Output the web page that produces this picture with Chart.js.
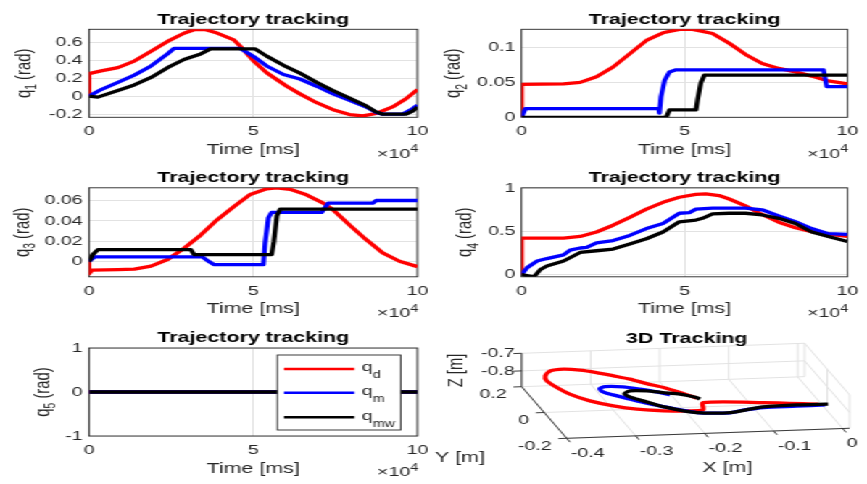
<!DOCTYPE html>
<html>
<head>
<meta charset="utf-8">
<script src="https://cdn.jsdelivr.net/npm/chart.js@4.4.1/dist/chart.umd.min.js"></script>
<style>
  html, body { margin: 0; padding: 0; background: #fff; overflow: hidden; }
  #fig { position: relative; width: 598px; height: 484px; transform: scaleX(1.44983); transform-origin: 0 0; }
  #fig canvas { position: absolute; left: 0; top: 0; }
</style>
</head>
<body>
<div id="fig">
  <canvas id="c1" width="598" height="484"></canvas>
  <canvas id="c2" width="598" height="484"></canvas>
  <canvas id="c3" width="598" height="484"></canvas>
  <canvas id="c4" width="598" height="484"></canvas>
  <canvas id="c5" width="598" height="484"></canvas>
  <canvas id="c6" width="598" height="484"></canvas>
</div>
<script>
// ---------------- data ----------------
const TIME_MAX = 100000;                 // ms
const TIME_TICKS = [0, 50000, 100000];

// joint 1: [time ms, rad]
const Q1_D  = [[0,0],[0,0.25],[3700,0.28],[8800,0.316],[13800,0.389],[18900,0.498],[23900,0.607],[28900,0.698],[32000,0.738],[35000,0.742],[39000,0.70],[44100,0.625],[46100,0.553],[50100,0.39],[54100,0.26],[60200,0.11],[64200,0.025],[69300,-0.073],[74300,-0.15],[79300,-0.204],[83400,-0.22],[87400,-0.193],[92400,-0.12],[96500,-0.029],[100000,0.073]];
const Q1_M  = [[0,0],[3700,0.073],[8800,0.153],[13800,0.233],[18900,0.335],[23900,0.469],[25900,0.53],[46100,0.53],[50100,0.44],[54100,0.335],[59200,0.24],[64200,0.19],[69300,0.11],[74300,0.025],[79300,-0.047],[84400,-0.12],[87400,-0.18],[89400,-0.2],[95500,-0.2],[98500,-0.14],[100000,-0.1]];
const Q1_MW = [[0,0],[2700,-0.011],[8800,0.062],[13800,0.124],[18900,0.207],[23900,0.316],[28900,0.407],[34000,0.469],[37000,0.524],[50600,0.524],[54100,0.444],[59200,0.342],[64200,0.255],[69300,0.153],[74300,0.062],[79300,-0.022],[84400,-0.109],[87400,-0.175],[89400,-0.2],[96500,-0.2],[98500,-0.167],[100000,-0.12]];
const Q1_TICKS = [-0.2, 0, 0.2, 0.4, 0.6];
const Q1_RANGE = [-0.235, 0.742];

// joint 2
const Q2_D  = [[0,0],[0,0.047],[12900,0.048],[18000,0.05],[23000,0.058],[28100,0.072],[33200,0.091],[38300,0.11],[43400,0.121],[48400,0.126],[52500,0.126],[58600,0.12],[63700,0.106],[68700,0.09],[73800,0.077],[78900,0.07],[84000,0.065],[89000,0.059],[94100,0.052],[100000,0.048]];
const Q2_M  = [[0,0],[1200,0.0124],[42100,0.0124],[42300,0.006],[42800,0.0295],[43900,0.053],[45400,0.065],[47400,0.068],[92600,0.068],[93600,0.044],[100000,0.044]];
const Q2_MW = [[0,0],[44400,0],[45400,0.0105],[53500,0.0105],[54000,0.025],[55000,0.049],[56100,0.0605],[100000,0.0605]];
const Q2_TICKS = [0, 0.05, 0.1];
const Q2_RANGE = [0, 0.126];

// joint 3
const Q3_D  = [[0,0],[0,-0.012],[900,-0.0085],[8800,-0.008],[13800,-0.0075],[18900,-0.0045],[23900,0.002],[28900,0.013],[34000,0.026],[39000,0.041],[44100,0.054],[49100,0.066],[54100,0.0715],[57100,0.0725],[61200,0.071],[66200,0.0656],[71300,0.0574],[74300,0.051],[79300,0.036],[84400,0.0215],[89400,0.0085],[94500,0.0003],[100000,-0.005]];
const Q3_M  = [[0,0],[1700,0.0046],[34500,0.0046],[36500,0.0],[38000,-0.003],[53100,-0.003],[53600,0.018],[54600,0.043],[55600,0.0483],[70800,0.0483],[72800,0.0574],[86400,0.0574],[87400,0.06],[100000,0.06]];
const Q3_MW = [[0,0],[1200,0.007],[2700,0.0117],[31000,0.0117],[32000,0.0068],[55600,0.0068],[56300,0.02],[57200,0.045],[58200,0.0515],[100000,0.0515]];
const Q3_TICKS = [0, 0.02, 0.04, 0.06];
const Q3_RANGE = [-0.015, 0.0725];

// joint 4
const Q4_D  = [[0,0],[0,0.425],[12900,0.425],[18000,0.444],[23000,0.496],[28100,0.575],[33200,0.667],[38300,0.762],[43400,0.841],[48400,0.9],[53500,0.933],[56500,0.94],[60600,0.92],[63700,0.88],[68700,0.80],[73800,0.70],[78900,0.61],[84000,0.545],[89000,0.50],[94100,0.47],[100000,0.445]];
const Q4_M  = [[0,0],[1700,0.08],[4800,0.159],[7800,0.187],[12900,0.23],[14900,0.286],[18000,0.31],[20000,0.317],[23000,0.37],[28100,0.397],[33200,0.456],[38300,0.536],[43400,0.595],[48400,0.714],[51500,0.722],[53500,0.762],[58600,0.774],[68700,0.774],[73800,0.754],[78900,0.683],[84000,0.615],[89000,0.536],[94100,0.476],[100000,0.468]];
const Q4_MW = [[0,0],[3800,-0.025],[5800,0.06],[7800,0.1],[12900,0.159],[18000,0.258],[23000,0.278],[28100,0.298],[33200,0.357],[38300,0.417],[43400,0.496],[48400,0.615],[53500,0.635],[55500,0.655],[58600,0.706],[63700,0.714],[68700,0.714],[73800,0.694],[78900,0.655],[84000,0.595],[89000,0.496],[94100,0.444],[100000,0.385]];
const Q4_TICKS = [0, 0.5, 1];
const Q4_RANGE = [-0.025, 1.01];

// joint 5 (held at zero)
const Q5_D  = [[0,0],[100000,0]];
const Q5_M  = [[0,0],[100000,0]];
const Q5_MW = [[0,0],[100000,0]];
const Q5_TICKS = [-1, 0, 1];
const Q5_RANGE = [-1, 1];

// end-effector path in Cartesian space [m]
const EE_D_X  = [-0.024,-0.099,-0.184,-0.193,-0.217,-0.25,-0.285,-0.314,-0.341,-0.361,-0.371,-0.377,-0.373,-0.36,-0.339,-0.317,-0.297,-0.277,-0.258,-0.24,-0.221,-0.204,-0.187];
const EE_D_Y  = [-0.13,-0.103,-0.087,-0.142,-0.145,-0.139,-0.119,-0.088,-0.044,0.012,0.065,0.118,0.156,0.192,0.202,0.19,0.167,0.138,0.109,0.071,0.037,-0.005,-0.052];
const EE_D_Z  = [-0.8,-0.8,-0.8,-0.8,-0.8,-0.8,-0.8,-0.8,-0.8,-0.8,-0.8,-0.8,-0.8,-0.8,-0.8,-0.8,-0.8,-0.8,-0.8,-0.8,-0.8,-0.8,-0.8];
const EE_M_X  = [-0.015,-0.057,-0.105,-0.137,-0.159,-0.183,-0.205,-0.225,-0.245,-0.264,-0.282,-0.301,-0.312,-0.312,-0.302,-0.277,-0.256,-0.236,-0.221];
const EE_M_Y  = [-0.137,-0.139,-0.14,-0.155,-0.171,-0.169,-0.16,-0.136,-0.106,-0.076,-0.042,-0.005,0.023,0.046,0.06,0.053,0.031,0.006,-0.02];
const EE_M_Z  = [-0.8,-0.8,-0.8,-0.8,-0.8,-0.8,-0.8,-0.8,-0.8,-0.8,-0.8,-0.8,-0.8,-0.8,-0.8,-0.8,-0.8,-0.8,-0.8];
const EE_MW_X = [-0.01,-0.055,-0.105,-0.126,-0.158,-0.183,-0.205,-0.222,-0.237,-0.252,-0.266,-0.28,-0.283,-0.272,-0.249,-0.228,-0.206,-0.187,-0.184];
const EE_MW_Y = [-0.132,-0.129,-0.135,-0.149,-0.169,-0.169,-0.16,-0.144,-0.12,-0.092,-0.058,-0.024,0.002,0.021,0.016,-0.001,-0.017,-0.047,-0.06];
const EE_MW_Z = [-0.8,-0.8,-0.8,-0.8,-0.8,-0.8,-0.8,-0.8,-0.8,-0.8,-0.8,-0.8,-0.8,-0.8,-0.8,-0.8,-0.8,-0.8,-0.8];
const X3_TICKS = [-0.4, -0.3, -0.2, -0.1, 0];
const Y3_TICKS = [-0.2, 0, 0.2];
const Z3_TICKS = [-0.8, -0.7];

// ---------------- style / layout ----------------
const FIG_W = 598, FIG_H = 484;
const K = 867 / FIG_W;                   // horizontal stretch applied to the figure
const FONT = "'Liberation Sans', Arial, Helvetica, sans-serif";
const AX_COLOR = '#262626';
const GRID_COLOR = '#e2e2e2';
const COLORS = ['#ff0000', '#0000ff', '#000000'];
const SUBS = ['d', 'm', 'mw'];
const TICK_SIZE = 13.5, LABEL_SIZE = 14.8, SUB_SIZE = 10.3;
const XAXIS_BAND = 30;                   // height reserved under each panel for tick labels

const font = (size, bold) => (bold ? 'bold ' : '') + size + 'px ' + FONT;
const fmt = v => String(+v.toFixed(4));

// text made of runs [text, isSubscript]
function runsWidth(ctx, runs, size, subSize) {
  let w = 0;
  for (const [t, sub] of runs) { ctx.font = font(sub ? subSize : size); w += ctx.measureText(t).width; }
  return w;
}
function drawRuns(ctx, runs, x, y, size, subSize, drop, align) {
  const w = runsWidth(ctx, runs, size, subSize);
  let cx = align === 'center' ? x - w / 2 : (align === 'right' ? x - w : x);
  ctx.textAlign = 'left';
  ctx.textBaseline = 'alphabetic';
  for (const [t, sub] of runs) {
    ctx.font = font(sub ? subSize : size);
    ctx.fillText(t, cx, y + (sub ? drop : 0));
    cx += ctx.measureText(t).width;
  }
}

function makeDecor(p) {
  return {
    id: 'panelDecor',
    beforeDatasetsDraw(chart) {
      const { ctx, chartArea: a } = chart;
      ctx.save();
      ctx.strokeStyle = AX_COLOR;
      ctx.lineWidth = 0.9;
      ctx.strokeRect(a.left, a.top, a.right - a.left, a.bottom - a.top);
      ctx.restore();
    },
    afterDatasetsDraw(chart) {
      if (!p.legend) return;
      const ctx = chart.ctx;
      const x0 = 277.3 / K, x1 = 400.7 / K, y0 = 355, y1 = 430;
      const rows = [369, 392.7, 417.3];
      ctx.save();
      ctx.fillStyle = '#fff';
      ctx.fillRect(x0, y0, x1 - x0, y1 - y0);
      ctx.strokeStyle = AX_COLOR;
      ctx.lineWidth = 0.9;
      ctx.strokeRect(x0, y0, x1 - x0, y1 - y0);
      chart.data.datasets.forEach((ds, i) => {
        ctx.strokeStyle = ds.borderColor;
        ctx.lineWidth = 2.6;
        ctx.beginPath();
        ctx.moveTo(284 / K, rows[i]);
        ctx.lineTo(354.3 / K, rows[i]);
        ctx.stroke();
        ctx.fillStyle = AX_COLOR;
        drawRuns(ctx, [['q', false], [SUBS[i], true]], 361.7 / K, rows[i] + 2.2, TICK_SIZE, 10, 7.2, 'left');
      });
      ctx.restore();
    },
    afterDraw(chart) {
      const { ctx, chartArea: a } = chart;
      const cx = (a.left + a.right) / 2;
      ctx.save();
      ctx.fillStyle = '#000';
      ctx.textAlign = 'center';
      ctx.textBaseline = 'alphabetic';
      ctx.font = font(LABEL_SIZE, true);
      ctx.fillText('Trajectory tracking', cx, a.top - 5.8);
      ctx.fillStyle = AX_COLOR;
      ctx.font = font(LABEL_SIZE);
      ctx.fillText('Time [ms]', cx, a.bottom + 36.6);
      // x10^4 multiplier
      ctx.font = font(10);
      const w4 = ctx.measureText('4').width;
      ctx.textAlign = 'right';
      ctx.fillText('4', a.right + 0.5, a.bottom + 34.7);
      ctx.font = font(TICK_SIZE);
      ctx.fillText('\u00d710', a.right + 0.5 - w4, a.bottom + 40.2);
      // y label
      ctx.translate(p.labelX / K, (a.top + a.bottom) / 2);
      ctx.rotate(-Math.PI / 2);
      drawRuns(ctx, [['q', false], [p.joint, true], [' (rad)', false]], 0, 3.6, LABEL_SIZE, SUB_SIZE, 4.2, 'center');
      ctx.restore();
    }
  };
}

function lineDataset(points, i) {
  return {
    label: 'q_' + SUBS[i],
    data: points.map(([x, y]) => ({ x, y })),
    showLine: true,
    borderColor: COLORS[i],
    backgroundColor: COLORS[i],
    borderWidth: 3.3,
    pointRadius: 0,
    tension: 0,
    borderJoinStyle: 'round',
    order: 3 - i
  };
}

function makePanel(p) {
  const left = p.box[0] / K, top = p.box[1], right = p.box[2] / K, bottom = p.box[3];
  return new Chart(document.getElementById(p.canvas), {
    type: 'scatter',
    data: { datasets: p.series.map(lineDataset) },
    options: {
      responsive: false, animation: false, devicePixelRatio: 1, events: [],
      layout: { padding: { left: 0, top, right: FIG_W - right, bottom: FIG_H - bottom - XAXIS_BAND } },
      plugins: { legend: { display: false }, tooltip: { enabled: false }, title: { display: false } },
      scales: {
        x: {
          type: 'linear', min: 0, max: TIME_MAX,
          afterFit: s => { s.height = XAXIS_BAND; },
          afterBuildTicks: s => { s.ticks = TIME_TICKS.map(value => ({ value })); },
          ticks: { padding: 5.9, maxRotation: 0, autoSkip: false, color: AX_COLOR,
                   font: { family: FONT, size: TICK_SIZE }, callback: v => fmt(v / 1e4) },
          grid: { color: GRID_COLOR, drawTicks: false, lineWidth: 1 },
          border: { display: false }
        },
        y: {
          type: 'linear', min: p.range[0], max: p.range[1],
          afterFit: s => { s.width = left; },
          afterBuildTicks: s => { s.ticks = p.ticks.map(value => ({ value })); },
          ticks: { padding: 4.3, autoSkip: false, color: AX_COLOR,
                   font: { family: FONT, size: TICK_SIZE }, callback: v => fmt(v) },
          grid: { color: GRID_COLOR, drawTicks: false, lineWidth: 1 },
          border: { display: false }
        }
      }
    },
    plugins: [makeDecor(p)]
  });
}

const PANELS = [
  { canvas: 'c1', box: [89, 29.3, 417.5, 117.3],    range: Q1_RANGE, ticks: Q1_TICKS, series: [Q1_D, Q1_M, Q1_MW], joint: '1', labelX: 25 },
  { canvas: 'c2', box: [521.5, 29.3, 849, 117.3],   range: Q2_RANGE, ticks: Q2_TICKS, series: [Q2_D, Q2_M, Q2_MW], joint: '2', labelX: 455 },
  { canvas: 'c3', box: [89, 187.8, 417.5, 276.8],   range: Q3_RANGE, ticks: Q3_TICKS, series: [Q3_D, Q3_M, Q3_MW], joint: '3', labelX: 23.5 },
  { canvas: 'c4', box: [521.5, 187.8, 849, 276.8],  range: Q4_RANGE, ticks: Q4_TICKS, series: [Q4_D, Q4_M, Q4_MW], joint: '4', labelX: 466.5 },
  { canvas: 'c5', box: [89, 348, 417.5, 436],       range: Q5_RANGE, ticks: Q5_TICKS, series: [Q5_D, Q5_M, Q5_MW], joint: '5', labelX: 43.5, legend: true }
];
PANELS.forEach(makePanel);

// ---------------- 3D view ----------------
// parallel projection of the data box onto the view plane
const VIEW3D = {
  lim: { x: [-0.4, 0.01], y: [-0.2, 0.2], z: [-0.89, -0.7] },
  origin: [566.7, 438.3],
  ex: [690, -24.5], ey: [-112.5, -129], ez: [0, -175.8],
  plane: { x: [430, 867], y: [320, 484] }
};
function project(X, Y, Z) {
  const v = VIEW3D;
  const u = X - v.lim.x[0], w = Y - v.lim.y[0], h = Z - v.lim.z[0];
  return {
    x: v.origin[0] + u * v.ex[0] + w * v.ey[0] + h * v.ez[0],
    y: v.origin[1] + u * v.ex[1] + w * v.ey[1] + h * v.ez[1]
  };
}
const path3d = (xs, ys, zs) => xs.map((x, i) => project(x, ys[i], zs[i]));

const decor3d = {
  id: 'decor3d',
  beforeDatasetsDraw(chart) {
    const { ctx, scales: { x: sx, y: sy } } = chart;
    const L = VIEW3D.lim;
    const [X0, X1] = L.x, [Y0, Y1] = L.y, [Z0, Z1] = L.z;
    const P = (X, Y, Z) => { const q = project(X, Y, Z); return [sx.getPixelForValue(q.x), sy.getPixelForValue(q.y)]; };
    const seg = (a, b) => { ctx.beginPath(); ctx.moveTo(a[0], a[1]); ctx.lineTo(b[0], b[1]); ctx.stroke(); };
    ctx.save();
    ctx.strokeStyle = GRID_COLOR;
    ctx.lineWidth = 1;
    for (const x of X3_TICKS) { seg(P(x, Y0, Z0), P(x, Y1, Z0)); seg(P(x, Y1, Z0), P(x, Y1, Z1)); }
    for (const y of Y3_TICKS) { seg(P(X0, y, Z0), P(X1, y, Z0)); seg(P(X1, y, Z0), P(X1, y, Z1)); }
    for (const z of Z3_TICKS) { seg(P(X0, Y1, z), P(X1, Y1, z)); seg(P(X1, Y0, z), P(X1, Y1, z)); }
    ctx.strokeStyle = AX_COLOR;
    ctx.lineWidth = 0.9;
    seg(P(X0, Y0, Z0), P(X1, Y0, Z0));
    seg(P(X0, Y0, Z0), P(X0, Y1, Z0));
    seg(P(X0, Y1, Z0), P(X0, Y1, Z1));
    for (const x of X3_TICKS) seg(P(x, Y0, Z0), P(x, Y0 - 0.03, Z0));
    for (const y of Y3_TICKS) seg(P(X0, y, Z0), P(X0 - 0.012, y, Z0));
    for (const z of Z3_TICKS) seg(P(X0, Y1, z), P(X0 - 0.012, Y1, z));
    ctx.restore();
  },
  afterDraw(chart) {
    const { ctx, scales: { x: sx, y: sy } } = chart;
    const L = VIEW3D.lim;
    const P = (X, Y, Z) => { const q = project(X, Y, Z); return [sx.getPixelForValue(q.x), sy.getPixelForValue(q.y)]; };
    ctx.save();
    ctx.fillStyle = AX_COLOR;
    ctx.font = font(TICK_SIZE);
    ctx.textBaseline = 'middle';
    ctx.textAlign = 'left';
    for (const x of X3_TICKS) { const [px, py] = P(x, L.y[0], L.z[0]); ctx.fillText(fmt(x), px + 4 / K, py + 15); }
    ctx.textAlign = 'right';
    for (const y of Y3_TICKS) { const [px, py] = P(L.x[0], y, L.z[0]); ctx.fillText(fmt(y), px - 15 / K, py + 8); }
    for (const z of Z3_TICKS) { const [px, py] = P(L.x[0], L.y[1], z); ctx.fillText(fmt(z), px - 7 / K, py); }
    ctx.font = font(LABEL_SIZE);
    ctx.textBaseline = 'alphabetic';
    ctx.textAlign = 'center';
    ctx.fillText('X [m]', 727.5 / K, 471.7);
    ctx.fillText('Y [m]', 460 / K, 461.7);
    ctx.fillStyle = '#000';
    ctx.font = font(LABEL_SIZE, true);
    ctx.fillText('3D Tracking', 686.7 / K, 342.7);
    ctx.fillStyle = AX_COLOR;
    ctx.translate(455 / K, 370.5);
    ctx.rotate(-Math.PI / 2);
    ctx.font = font(LABEL_SIZE);
    ctx.fillText('Z [m]', 0, 5.5);
    ctx.restore();
  }
};

const track3d = (pts, i) => ({
  label: 'p_' + SUBS[i], data: pts, showLine: true,
  borderColor: COLORS[i], backgroundColor: COLORS[i],
  borderWidth: 3.3, pointRadius: 0, tension: 0.25, borderJoinStyle: 'round', order: 3 - i
});

new Chart(document.getElementById('c6'), {
  type: 'scatter',
  data: {
    datasets: [
      track3d(path3d(EE_D_X, EE_D_Y, EE_D_Z), 0),
      track3d(path3d(EE_M_X, EE_M_Y, EE_M_Z), 1),
      track3d(path3d(EE_MW_X, EE_MW_Y, EE_MW_Z), 2)
    ]
  },
  options: {
    responsive: false, animation: false, devicePixelRatio: 1, events: [],
    layout: { padding: { left: VIEW3D.plane.x[0] / K, top: VIEW3D.plane.y[0], right: 0, bottom: 0 } },
    plugins: { legend: { display: false }, tooltip: { enabled: false } },
    scales: {
      x: { type: 'linear', display: false, min: VIEW3D.plane.x[0], max: VIEW3D.plane.x[1] },
      y: { type: 'linear', display: false, reverse: true, min: VIEW3D.plane.y[0], max: VIEW3D.plane.y[1] }
    }
  },
  plugins: [decor3d]
});
</script>
</body>
</html>
